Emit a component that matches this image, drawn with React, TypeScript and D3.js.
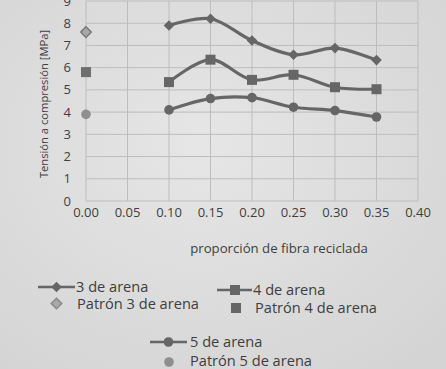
import React from "react";
import * as d3 from "d3";

const xs = [0.10, 0.15, 0.20, 0.25, 0.30, 0.35];
const arena3 = [7.9, 8.2, 7.22, 6.58, 6.88, 6.34];
const arena4 = [5.35, 6.36, 5.45, 5.68, 5.12, 5.03];
const arena5 = [4.1, 4.61, 4.65, 4.22, 4.07, 3.78];
const patronX = 0.0;
const patron3 = 7.6;
const patron4 = 5.8;
const patron5 = 3.9;
const xTicks = [0, 0.05, 0.1, 0.15, 0.2, 0.25, 0.3, 0.35, 0.4];
const yTicks = [0, 1, 2, 3, 4, 5, 6, 7, 8, 9];

const W = 446, H = 369;
const font = "'Open Sans', 'DejaVu Sans', sans-serif";
const lineC = "#666666";
const textC = "#3e3e3e";

export default function App() {
  const x = d3.scaleLinear().domain([0, 0.4]).range([86, 418]);
  const y = d3.scaleLinear().domain([0, 9]).range([201, 1]);
  const line = d3.line<number>().x((_, i) => x(xs[i])).y(d => y(d)).curve(d3.curveCatmullRom.alpha(0.5));
  const diamond = (cx: number, cy: number, r: number) => `M${cx},${cy - r}L${cx + r},${cy}L${cx},${cy + r}L${cx - r},${cy}Z`;
  const series = [
    { data: arena3, kind: "d" },
    { data: arena4, kind: "s" },
    { data: arena5, kind: "c" },
  ];
  const marker = (kind: string, cx: number, cy: number, key: any, fill = lineC, stroke = "none") => {
    if (kind === "d") return <path key={key} d={diamond(cx, cy, 5.3)} fill={fill} stroke={stroke} strokeWidth={1.5} />;
    if (kind === "s") return <rect key={key} x={cx - 5} y={cy - 5} width={10} height={10} fill={fill} stroke={stroke} />;
    return <circle key={key} cx={cx} cy={cy} r={4.8} fill={fill} stroke={stroke} />;
  };
  return (
    <svg width={W} height={H} style={{ position: "absolute", left: 0, top: 0, background: "#dddddd" }}>
      <defs>
        <radialGradient id="bg" cx="45%" cy="40%" r="75%">
          <stop offset="0%" stopColor="#e6e6e6" />
          <stop offset="100%" stopColor="#d4d4d4" />
        </radialGradient>
      </defs>
      <rect width={W} height={H} fill="url(#bg)" />
      {yTicks.map(t => (
        <line key={"gy" + t} x1={x(0)} x2={x(0.4)} y1={y(t)} y2={y(t)} stroke="#bdbdbd" strokeWidth={1} />
      ))}
      {xTicks.map(t => (
        <line key={"gx" + t} x1={x(t)} x2={x(t)} y1={y(0)} y2={y(9)} stroke="#bdbdbd" strokeWidth={1} />
      ))}
      {yTicks.map(t => (
        <text key={"ty" + t} x={71} y={y(t)} dy="0.35em" textAnchor="end" fontFamily={font} fontSize={13} fill={textC}>{t}</text>
      ))}
      {xTicks.map(t => (
        <text key={"tx" + t} x={x(t)} y={217} textAnchor="middle" fontFamily={font} fontSize={13} fill={textC}>{d3.format(".2f")(t)}</text>
      ))}
      <text x={279} y={253} textAnchor="middle" fontFamily={font} fontSize={13.2} fill={textC}>proporción de fibra reciclada</text>
      <text transform={`translate(48,104) rotate(-90)`} textAnchor="middle" fontFamily={font} fontSize={11.2} fill={textC}>Tensión a compresión [MPa]</text>
      {series.map((s, si) => (
        <g key={"s" + si}>
          <path d={line(s.data) || ""} fill="none" stroke={lineC} strokeWidth={3.2} />
          {s.data.map((v, i) => marker(s.kind, x(xs[i]), y(v), i))}
        </g>
      ))}
      {marker("d", x(patronX), y(patron3), "p3", "#a8a8a8", "#7a7a7a")}
      {marker("s", x(patronX), y(patron4), "p4", "#6e6e6e")}
      {marker("c", x(patronX), y(patron5), "p5", "#8f8f8f")}
      {/* legend */}
      <g fontFamily={font} fontSize={14.6} fill={textC}>
        <line x1={38} x2={75} y1={287} y2={287} stroke={lineC} strokeWidth={2.5} />
        {marker("d", 56.5, 287, "l3")}
        <text x={76} y={287} dy="0.35em">3 de arena</text>
        {marker("d", 56.5, 303.5, "lp3", "#a8a8a8", "#8a8a8a")}
        <text x={77} y={304} dy="0.35em">Patrón 3 de arena</text>
        <line x1={217} x2={252} y1={290} y2={290} stroke={lineC} strokeWidth={2.5} />
        {marker("s", 235, 290, "l4")}
        <text x={253} y={290} dy="0.35em">4 de arena</text>
        {marker("s", 236, 308, "lp4")}
        <text x={255} y={308} dy="0.35em">Patrón 4 de arena</text>
        <line x1={150} x2={187} y1={342} y2={342} stroke={lineC} strokeWidth={2.5} />
        {marker("c", 168.5, 342, "l5")}
        <text x={190} y={342} dy="0.35em">5 de arena</text>
        {marker("c", 169, 362, "lp5", "#8f8f8f")}
        <text x={190} y={361} dy="0.35em">Patrón 5 de arena</text>
      </g>
    </svg>
  );
}
